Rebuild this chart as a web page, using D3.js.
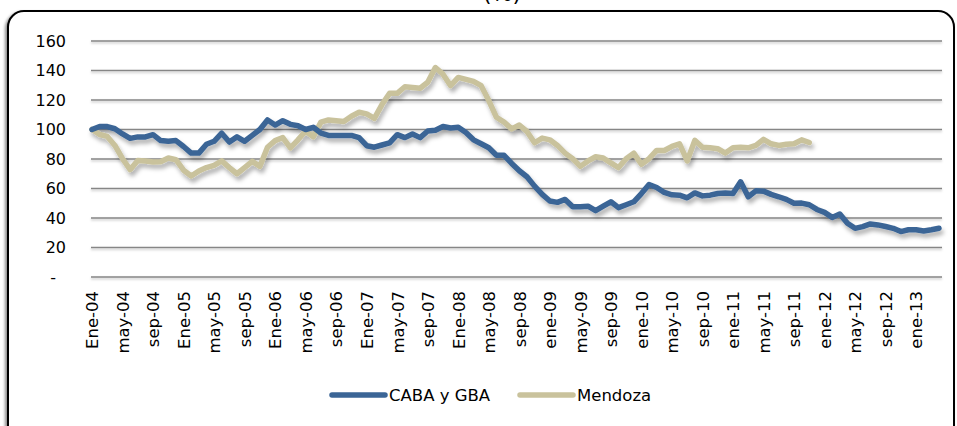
<!DOCTYPE html>
<html>
<head>
<meta charset="utf-8">
<script src="https://cdn.jsdelivr.net/npm/d3@7"></script>
<style>
  body { margin: 0; background: #fff; }
  svg { display: block; font-family: 'DejaVu Sans', sans-serif; }
</style>
</head>
<body>
<div id="chart"></div>
<script>
// meses y años del eje x (Ene-04 .. abr-13)
const monthNames = ['Ene', 'feb', 'mar', 'abr', 'may', 'jun', 'jul', 'ago', 'sep', 'oct', 'nov', 'dic'];
const years = ['04', '05', '06', '07', '08', '09', '10', '11', '12', '13'];
const yTicks = [0, 20, 40, 60, 80, 100, 120, 140, 160];
const seriesNames = ['CABA y GBA', 'Mendoza'];

const caba = [
  100, 102, 102, 100.5, 97, 94, 95, 95, 96.5, 92.5, 92, 92.5,
  88.5, 84, 84, 90, 92, 97.5, 91.5, 95, 92, 96, 100, 106.5,
  103, 106, 103.5, 102.5, 100, 101.5, 97.5, 96, 96, 96, 96, 94.5,
  89, 88, 89.5, 91, 96.5, 94.5, 97, 94.5, 99, 99.5, 102, 101,
  101.5, 98, 93, 90.3, 87.6, 82.5, 82.5, 77, 72, 68, 61.6, 56,
  51.5, 50.6, 52.6, 47.6, 47.6, 48, 45, 48, 51, 47, 49, 51,
  56.6, 62.7, 60.7, 57.3, 55.7, 55.5, 53.7, 57, 55, 55.5, 56.6, 57,
  56.6, 64.5, 54.4, 58.4, 58.2, 56, 54.4, 52.6, 50, 50.1, 49, 45.8,
  43.8, 40.4, 42.7, 36.4, 33, 34.2, 36, 35.3, 34.2, 33, 30.8, 32,
  32, 31.2, 32, 33
];
const mendoza = [
  100, 96.6, 95.3, 89.2, 80.2, 72.8, 79, 78.7, 78, 78.2, 80.7, 79.5,
  72.4, 68.5, 71.9, 74.2, 75.7, 78.7, 74.2, 70, 74.2, 78.4, 75, 88,
  92.5, 94.5, 87.5, 93, 99, 95, 105, 106.5, 106, 105.4, 109, 111.7,
  110.6, 107.6, 116.9, 124.5, 124.5, 129, 128.5, 128, 132, 142, 137.5, 129.7,
  135.3, 134, 132.6, 129.7, 119.6, 108.3, 105, 100.4, 103, 98.7, 91, 94.2,
  93, 89.2, 84, 80.2, 75, 78.7, 81.5, 80.7, 77.3, 74.2, 80.2, 84,
  76.4, 80.2, 85.8, 85.8, 88.5, 90.3, 78.7, 92.6, 88, 87.6, 87, 84,
  87.6, 88, 87.6, 89.2, 93.3, 90.3, 89.2, 90, 90.3, 93, 91.2
];

const categories = [];
years.forEach((yy) => {
  monthNames.forEach((m) => {
    const name = (m === 'Ene' && +yy >= 9) ? 'ene' : m;
    categories.push(`${name}-${yy}`);
  });
});
categories.splice(caba.length); // hasta abr-13

const colors = ['#3b6596', '#c9c29c'];

const svgwidth = 957;
const svgheight = 426;
const svg = d3.select('#chart').append('svg')
  .attr('width', svgwidth)
  .attr('height', svgheight);

const defs = svg.append('defs');
const sh = defs.append('filter').attr('id', 'shadow')
  .attr('x', '-5%').attr('y', '-20%').attr('width', '110%').attr('height', '160%');
sh.append('feDropShadow')
  .attr('dx', 2).attr('dy', 4).attr('stdDeviation', 2.2)
  .attr('flood-color', '#000').attr('flood-opacity', 0.3);
const gsh = defs.append('filter').attr('id', 'gridshadow')
  .attr('x', '-5%').attr('y', '-200%').attr('width', '110%').attr('height', '500%');
gsh.append('feDropShadow')
  .attr('dx', 0).attr('dy', 1.5).attr('stdDeviation', 0.8)
  .attr('flood-color', '#000').attr('flood-opacity', 0.25);
const fsh = defs.append('filter').attr('id', 'frameshadow')
  .attr('x', '-5%').attr('y', '-5%').attr('width', '110%').attr('height', '110%');
fsh.append('feDropShadow')
  .attr('dx', -2).attr('dy', 2).attr('stdDeviation', 1.5)
  .attr('flood-color', '#000').attr('flood-opacity', 0.45);

// título (recortado arriba, como en el original)
svg.append('text')
  .attr('x', 502)
  .attr('y', 1)
  .attr('text-anchor', 'middle')
  .attr('font-size', '22px')
  .attr('fill', '#000')
  .text('(%)');

// marco
svg.append('rect')
  .attr('x', 8)
  .attr('y', 11)
  .attr('width', 946)
  .attr('height', 440)
  .attr('rx', 16)
  .attr('fill', '#fff')
  .attr('stroke', '#000')
  .attr('stroke-width', 2)
  .attr('filter', 'url(#frameshadow)');

const left = 91;
const right = 942;
const x = d3.scalePoint()
  .domain(categories)
  .range([92, 939]);
const y = d3.scaleLinear()
  .domain([0, 160])
  .range([277, 41]);

// líneas de grilla
const grid = svg.append('g').attr('filter', 'url(#gridshadow)');
grid.selectAll('line')
  .data(yTicks)
  .enter()
  .append('line')
  .attr('x1', left)
  .attr('x2', right)
  .attr('y1', d => y(d))
  .attr('y2', d => y(d))
  .attr('stroke', '#868686')
  .attr('stroke-width', 1.6);

// eje y
const yAxis = svg.append('g')
  .attr('transform', 'translate(70,0)')
  .call(d3.axisLeft(y)
    .tickValues(yTicks)
    .tickSize(0)
    .tickPadding(4)
    .tickFormat(d => (d === 0 ? '-' : d)));
yAxis.select('.domain').remove();
yAxis.selectAll('text')
  .attr('font-family', "'DejaVu Sans', sans-serif")
  .attr('font-size', '16px')
  .attr('fill', '#000')
  .attr('dx', d => (d === 0 ? -10 : 0));

// eje x
const xAxis = svg.append('g')
  .attr('transform', 'translate(0,277)')
  .call(d3.axisBottom(x)
    .tickValues(categories.filter((c, i) => i % 4 === 0))
    .tickSize(0));
xAxis.select('.domain').remove();
xAxis.selectAll('text')
  .attr('font-family', "'DejaVu Sans', sans-serif")
  .attr('font-size', '16.5px')
  .attr('fill', '#000')
  .attr('transform', 'rotate(-90)')
  .attr('text-anchor', 'end')
  .attr('x', -14)
  .attr('y', 0)
  .attr('dy', '0.35em');

// series
const line = d3.line()
  .x((d, i) => x(categories[i]))
  .y(d => y(d));

const lines = svg.append('g').attr('filter', 'url(#shadow)');
[mendoza, caba].forEach((s, k) => {
  lines.append('path')
    .attr('d', line(s))
    .attr('fill', 'none')
    .attr('stroke', k === 0 ? colors[1] : colors[0])
    .attr('stroke-width', 5.5)
    .attr('stroke-linejoin', 'round')
    .attr('stroke-linecap', 'round');
});

// leyenda
const legend = svg.append('g');
const legendX = [332, 520];
seriesNames.forEach((name, k) => {
  legend.append('line')
    .attr('x1', legendX[k])
    .attr('x2', legendX[k] + 53)
    .attr('y1', 395)
    .attr('y2', 395)
    .attr('stroke', colors[k])
    .attr('stroke-width', 5.5)
    .attr('stroke-linecap', 'round');
  legend.append('text')
    .attr('x', legendX[k] + 57)
    .attr('y', 395)
    .attr('dy', '0.35em')
    .attr('font-size', '16.5px')
    .attr('fill', '#000')
    .text(name);
});
</script>
</body>
</html>
